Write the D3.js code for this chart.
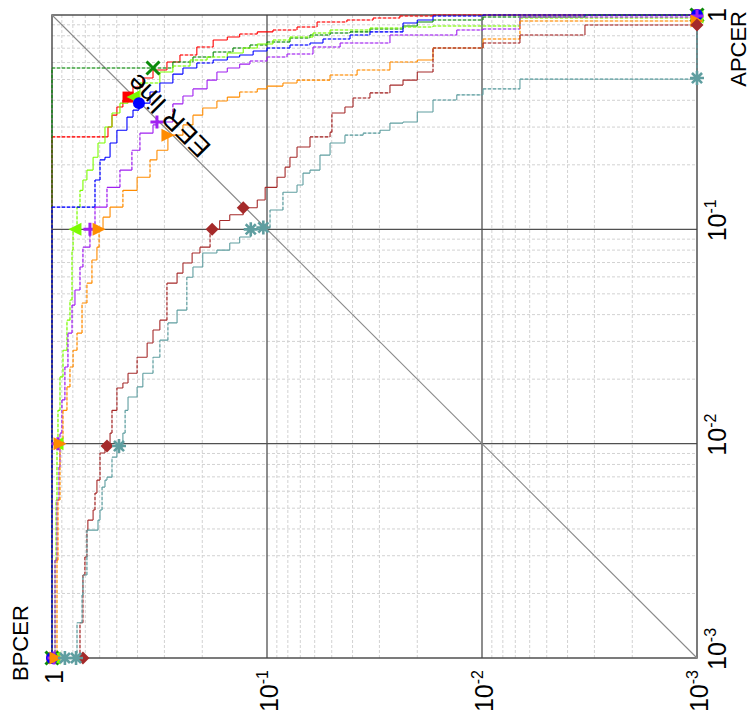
<!DOCTYPE html>
<html>
<head>
<meta charset="utf-8">
<script src="https://cdn.jsdelivr.net/npm/d3@7/dist/d3.min.js"></script>
<style>
  html, body { margin: 0; padding: 0; background: #fff; }
  svg { display: block; }
  text { font-family: "Liberation Sans", Arial, Helvetica, sans-serif; fill: #000; }
</style>
</head>
<body>
<svg id="det" width="752" height="719"></svg>
<script>
// Shared decade ticks for both error-rate axes
const tickValues = [1, 0.1, 0.01, 0.001];
const tickExponents = ["", "-1", "-2", "-3"];

// DET curves: each point is [BPCER, APCER]
const curveRed = [[1,0.001],[1,0.270],[0.567,0.270],[0.549,0.300],[0.526,0.341],[0.499,0.372],[0.468,0.401],[0.443,0.414],[0.420,0.461],[0.378,0.508],[0.339,0.554],[0.292,0.604],[0.254,0.651],[0.212,0.709],[0.178,0.764],[0.153,0.789],[0.134,0.815],[0.111,0.834],[0.0938,0.851],[0.0725,0.879],[0.0585,0.927],[0.0425,0.948],[0.0321,0.968],[0.0241,0.989],[0.0169,1],[0.001,1]];
const curveGreen = [[1,0.001],[1,0.566],[0.339,0.566],[0.274,0.604],[0.221,0.637],[0.178,0.672],[0.144,0.702],[0.120,0.724],[0.1,0.748],[0.0782,0.781],[0.0631,0.807],[0.0509,0.824],[0.0411,0.834],[0.0332,0.861],[0.0233,0.889],[0.0200,0.927],[0.0169,0.948],[0.00989,0.979],[0.00332,0.979],[0.00332,1],[0.001,1]];
const curveLawn = [[0.979,0.001],[0.968,0.00286],[0.958,0.00546],[0.948,0.00964],[0.938,0.0143],[0.918,0.0205],[0.889,0.0273],[0.852,0.0377],[0.825,0.0468],[0.807,0.0800],[0.798,0.1],[0.765,0.127],[0.741,0.152],[0.718,0.170],[0.688,0.189],[0.644,0.217],[0.611,0.253],[0.567,0.300],[0.526,0.349],[0.483,0.388],[0.443,0.414],[0.390,0.482],[0.315,0.542],[0.274,0.578],[0.228,0.617],[0.190,0.637],[0.153,0.665],[0.129,0.702],[0.111,0.732],[0.0938,0.764],[0.0782,0.789],[0.0611,0.824],[0.0509,0.851],[0.0332,0.870],[0.0233,0.879],[0.0169,0.889],[0.00666,0.889],[0.00666,0.968],[0.00332,0.968],[0.001,0.979]];
const curveBlue = [[1,0.001],[1,0.127],[0.631,0.127],[0.631,0.170],[0.598,0.170],[0.598,0.211],[0.567,0.217],[0.537,0.253],[0.499,0.290],[0.448,0.334],[0.420,0.360],[0.394,0.388],[0.350,0.437],[0.315,0.482],[0.274,0.530],[0.246,0.566],[0.212,0.597],[0.178,0.617],[0.153,0.637],[0.134,0.651],[0.116,0.679],[0.1,0.702],[0.0782,0.724],[0.0631,0.740],[0.0549,0.773],[0.0411,0.807],[0.0332,0.834],[0.0233,0.918],[0.0200,0.948],[0.0169,0.989],[0.00989,1],[0.001,1]];
const curvePurple = [[0.989,0.001],[0.968,0.00286],[0.948,0.00546],[0.928,0.00778],[0.918,0.0112],[0.899,0.0160],[0.871,0.0228],[0.843,0.0328],[0.807,0.0443],[0.782,0.0521],[0.741,0.0667],[0.718,0.0826],[0.666,0.1],[0.631,0.127],[0.555,0.157],[0.483,0.189],[0.425,0.234],[0.390,0.281],[0.339,0.307],[0.325,0.317],[0.274,0.385],[0.246,0.419],[0.221,0.452],[0.190,0.497],[0.171,0.542],[0.153,0.566],[0.134,0.590],[0.120,0.610],[0.1,0.637],[0.0807,0.658],[0.0611,0.709],[0.0457,0.740],[0.0268,0.748],[0.0268,0.807],[0.0131,0.851],[0.00989,0.861],[0.00666,0.870],[0.00666,0.979],[0.001,0.989]];
const curveOrange = [[0.958,0.001],[0.948,0.00286],[0.938,0.00546],[0.918,0.01],[0.889,0.0143],[0.852,0.0184],[0.825,0.0228],[0.798,0.0273],[0.765,0.0328],[0.725,0.0453],[0.688,0.0561],[0.652,0.0719],[0.618,0.0826],[0.604,0.1],[0.579,0.114],[0.537,0.127],[0.468,0.152],[0.402,0.175],[0.350,0.211],[0.325,0.234],[0.289,0.275],[0.246,0.307],[0.221,0.341],[0.199,0.368],[0.171,0.397],[0.153,0.414],[0.134,0.437],[0.111,0.452],[0.1,0.466],[0.0843,0.482],[0.0725,0.497],[0.0509,0.525],[0.0381,0.554],[0.0268,0.604],[0.0200,0.617],[0.0169,0.623],[0.0169,0.702],[0.00989,0.709],[0.00989,0.773],[0.00666,0.773],[0.00666,0.938],[0.001,0.938]];
const curveBrown = [[0.741,0.001],[0.741,0.00146],[0.718,0.00201],[0.718,0.00244],[0.703,0.00296],[0.688,0.00395],[0.681,0.00440],[0.644,0.00490],[0.631,0.00588],[0.618,0.00676],[0.598,0.00904],[0.567,0.00975],[0.537,0.0112],[0.526,0.0143],[0.499,0.0182],[0.468,0.0192],[0.443,0.0213],[0.402,0.0253],[0.361,0.0295],[0.339,0.0339],[0.315,0.0377],[0.292,0.0468],[0.292,0.0561],[0.262,0.0625],[0.246,0.0697],[0.223,0.0775],[0.205,0.0826],[0.184,0.1],[0.166,0.110],[0.149,0.117],[0.129,0.126],[0.111,0.137],[0.102,0.157],[0.0898,0.175],[0.0824,0.195],[0.0782,0.217],[0.0725,0.242],[0.0631,0.270],[0.0509,0.284],[0.0499,0.349],[0.0434,0.372],[0.0398,0.410],[0.0332,0.433],[0.0268,0.471],[0.0233,0.497],[0.0200,0.542],[0.0169,0.542],[0.0169,0.702],[0.00989,0.709],[0.00989,0.740],[0.00666,0.740],[0.00666,0.807],[0.00332,0.807],[0.00332,0.898],[0.001,0.898]];
const curveTeal = [[0.765,0.001],[0.765,0.00146],[0.741,0.00146],[0.725,0.00197],[0.718,0.00244],[0.688,0.00292],[0.688,0.00395],[0.611,0.00440],[0.598,0.00490],[0.585,0.00627],[0.567,0.00676],[0.555,0.00698],[0.526,0.00865],[0.499,0.00964],[0.468,0.0112],[0.457,0.0143],[0.443,0.0165],[0.402,0.0184],[0.378,0.0213],[0.339,0.0253],[0.315,0.0304],[0.289,0.0366],[0.262,0.0420],[0.236,0.0598],[0.221,0.0667],[0.199,0.0775],[0.171,0.0800],[0.149,0.0863],[0.134,0.0921],[0.119,0.1],[0.104,0.102],[0.0968,0.123],[0.0843,0.149],[0.0725,0.161],[0.0680,0.183],[0.0631,0.189],[0.0567,0.222],[0.0509,0.253],[0.0434,0.275],[0.0357,0.281],[0.0298,0.290],[0.0268,0.313],[0.0233,0.317],[0.0200,0.353],[0.0169,0.372],[0.0169,0.401],[0.0131,0.424],[0.00989,0.452],[0.00666,0.452],[0.00666,0.502],[0.00332,0.502],[0.001,0.508],[0.001,1]];

// Operating points highlighted on each curve: [BPCER, APCER]
const marksRed = [[1,0.001],[0.443,0.414],[0.001,1]];
const marksGreen = [[1,0.001],[0.339,0.566],[0.001,1]];
const marksLawn = [[0.979,0.001],[0.948,0.01],[0.782,0.1],[0.420,0.414],[0.001,0.979]];
const marksBlue = [[1,0.001],[0.394,0.388],[0.001,1]];
const marksPurple = [[0.979,0.001],[0.938,0.01],[0.666,0.1],[0.325,0.317],[0.001,0.989]];
const marksOrange = [[0.958,0.001],[0.918,0.01],[0.604,0.1],[0.289,0.275],[0.001,0.938]];
const marksBrown = [[0.718,0.001],[0.555,0.00975],[0.180,0.1],[0.129,0.126],[0.001,0.898]];
const marksTeal = [[0.871,0.001],[0.773,0.001],[0.488,0.00975],[0.119,0.1],[0.104,0.102],[0.001,0.508]];

const seriesList = [
  { curve: curveRed,    marks: marksRed,    color: "#ff0000", shape: "square" },
  { curve: curveGreen,  marks: marksGreen,  color: "#0a8a0a", shape: "times" },
  { curve: curveLawn,   marks: marksLawn,   color: "#7cfc00", shape: "triLeft" },
  { curve: curveBlue,   marks: marksBlue,   color: "#0000ff", shape: "circle" },
  { curve: curvePurple, marks: marksPurple, color: "#a020f0", shape: "plus" },
  { curve: curveOrange, marks: marksOrange, color: "#ff8c00", shape: "triRight" },
  { curve: curveBrown,  marks: marksBrown,  color: "#a52a2a", shape: "diamond" },
  { curve: curveTeal,   marks: marksTeal,   color: "#5f9ea0", shape: "asterisk" }
];

const svg = d3.select("#det");

// BPCER runs along the horizontal, APCER along the vertical, both log scaled
const x = d3.scaleLog().domain([1, 1e-3]).range([52, 697]);
const y = d3.scaleLog().domain([1, 1e-3]).range([15, 658]);
const [x0, x1] = x.range();
const [y0, y1] = y.range();

const grid = svg.append("g");
const isMajor = v => tickValues.some(t => Math.abs(Math.log10(v) - Math.log10(t)) < 1e-6);

// minor grid
x.ticks().filter(v => !isMajor(v)).forEach(v => {
  grid.append("line").attr("x1", x(v)).attr("x2", x(v)).attr("y1", y0).attr("y2", y1)
    .attr("stroke", "#d2d2d2").attr("stroke-width", 1).attr("stroke-dasharray", "3,2");
});
y.ticks().filter(v => !isMajor(v)).forEach(v => {
  grid.append("line").attr("y1", y(v)).attr("y2", y(v)).attr("x1", x0).attr("x2", x1)
    .attr("stroke", "#d2d2d2").attr("stroke-width", 1).attr("stroke-dasharray", "3,2");
});
// decade lines
tickValues.slice(1, 3).forEach(v => {
  grid.append("line").attr("x1", x(v)).attr("x2", x(v)).attr("y1", y0).attr("y2", y1)
    .attr("stroke", "#505050").attr("stroke-width", 1.3);
  grid.append("line").attr("y1", y(v)).attr("y2", y(v)).attr("x1", x0).attr("x2", x1)
    .attr("stroke", "#505050").attr("stroke-width", 1.3);
});
// frame
grid.append("rect").attr("x", x0).attr("y", y0).attr("width", x1 - x0).attr("height", y1 - y0)
  .attr("fill", "none").attr("stroke", "#444").attr("stroke-width", 1.4);

// equal error rate diagonal
svg.append("line")
  .attr("x1", x(1)).attr("y1", y(1)).attr("x2", x(1e-3)).attr("y2", y(1e-3))
  .attr("stroke", "#8a8a8a").attr("stroke-width", 1.1);

// step curves: short steps solid, long sparse steps dotted
const segLine = d3.line();
const curves = svg.append("g").attr("fill", "none");
seriesList.forEach(s => {
  const pts = s.curve.map(d => [x(d[0]), y(d[1])]);
  let solid = "", dotted = "";
  for (let i = 0; i < pts.length - 1; i++) {
    const a = pts[i], b = pts[i + 1];
    const parts = [];
    if (b[0] !== a[0]) parts.push([[a[0], a[1]], [b[0], a[1]]]);
    if (b[1] !== a[1]) parts.push([[b[0], a[1]], [b[0], b[1]]]);
    parts.forEach(p => {
      const len = Math.hypot(p[1][0] - p[0][0], p[1][1] - p[0][1]);
      if (len > 16) dotted += segLine(p); else solid += segLine(p);
    });
  }
  curves.append("path").attr("d", dotted).attr("stroke", s.color).attr("stroke-opacity", 0.35).attr("stroke-width", 1.1);
  curves.append("path").attr("d", dotted).attr("stroke", s.color).attr("stroke-width", 1.1).attr("stroke-dasharray", "3,2");
  curves.append("path").attr("d", solid).attr("stroke", s.color).attr("stroke-width", 1.1);
});

// markers
function drawMarker(g, shape, cx, cy, color) {
  const h = 6.5;
  if (shape === "circle") {
    g.append("circle").attr("cx", cx).attr("cy", cy).attr("r", 6).attr("fill", color);
  } else if (shape === "square") {
    g.append("rect").attr("x", cx - 5.5).attr("y", cy - 5.5).attr("width", 11).attr("height", 11).attr("fill", color);
  } else if (shape === "diamond") {
    g.append("path").attr("d", `M${cx},${cy - h}L${cx + h},${cy}L${cx},${cy + h}L${cx - h},${cy}Z`).attr("fill", color);
  } else if (shape === "triLeft") {
    g.append("path").attr("d", `M${cx - h},${cy}L${cx + h},${cy - h}L${cx + h},${cy + h}Z`).attr("fill", color);
  } else if (shape === "triRight") {
    g.append("path").attr("d", `M${cx + h},${cy}L${cx - h},${cy - h}L${cx - h},${cy + h}Z`).attr("fill", color);
  } else if (shape === "times") {
    g.append("path").attr("d", `M${cx - h},${cy - h}L${cx + h},${cy + h}M${cx - h},${cy + h}L${cx + h},${cy - h}`)
      .attr("stroke", color).attr("stroke-width", 3).attr("fill", "none");
  } else if (shape === "plus") {
    g.append("path").attr("d", `M${cx - h},${cy}L${cx + h},${cy}M${cx},${cy - h}L${cx},${cy + h}`)
      .attr("stroke", color).attr("stroke-width", 3).attr("fill", "none");
  } else if (shape === "asterisk") {
    const r = 7, q = r * 0.72;
    g.append("path").attr("d", `M${cx - r},${cy}L${cx + r},${cy}M${cx},${cy - r}L${cx},${cy + r}M${cx - q},${cy - q}L${cx + q},${cy + q}M${cx - q},${cy + q}L${cx + q},${cy - q}`)
      .attr("stroke", color).attr("stroke-width", 2.6).attr("fill", "none");
  }
}
const markers = svg.append("g");
seriesList.forEach(s => {
  s.marks.forEach(d => drawMarker(markers, s.shape, x(d[0]), y(d[1]), s.color));
});

// tick labels: BPCER along the bottom, APCER on the right, written upward
function powerLabel(g, exp, anchor) {
  const t = g.append("text").attr("text-anchor", anchor).attr("font-size", 25);
  t.append("tspan").text(exp ? "10" : "1");
  if (exp) t.append("tspan").attr("dy", -10).attr("font-size", 16).text(exp);
}
tickValues.forEach((v, i) => {
  const gb = svg.append("g").attr("transform", `translate(${x(v) + 11},670) rotate(-90)`);
  powerLabel(gb, tickExponents[i], "end");
  const exp = tickExponents[i];
  const gr = svg.append("g").attr("transform", `translate(726,${y(v) + (exp ? 12 : 0)}) rotate(-90)`);
  powerLabel(gr, exp, exp ? "start" : "middle");
});

// axis titles
svg.append("text").attr("transform", "translate(28,681) rotate(-90)")
  .attr("font-size", 22).attr("text-anchor", "start").text("BPCER");
svg.append("text").attr("transform", "translate(746,11) rotate(-90)")
  .attr("font-size", 22).attr("text-anchor", "end").text("APCER");

// label along the diagonal
svg.append("text").attr("transform", "translate(175,109) rotate(-135)")
  .attr("font-size", 27).attr("text-anchor", "middle").text("EER line");
</script>
</body>
</html>
